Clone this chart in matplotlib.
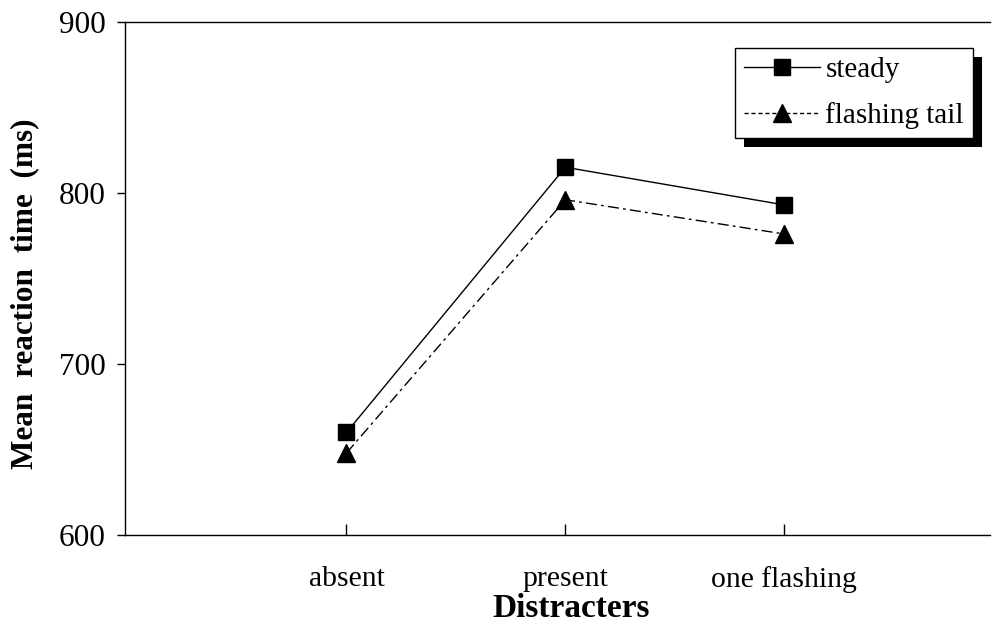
import matplotlib
matplotlib.use("Agg")
import matplotlib.pyplot as plt
from matplotlib.lines import Line2D
from matplotlib.patches import Rectangle

# data
categories = ["absent", "present", "one flashing"]
steady = [660, 815, 793]
flashing_tail = [648, 796, 776]
yticks = [600, 700, 800, 900]

plt.rcParams['font.family'] = ['Liberation Serif', 'DejaVu Serif']

fig = plt.figure(figsize=(9.95, 6.23), dpi=100)
ax = fig.add_axes([0.126, 0.141, 0.869, 0.824])

x = list(range(len(categories)))
ax.plot(x, steady, color='black', lw=1.0, marker='s', markersize=11)
ax.plot(x, flashing_tail, color='black', lw=1.0, linestyle=(0, (8, 3, 2, 3)),
        marker='^', markersize=13)

ax.set_xlim(-1.01, 2.94)
ax.set_ylim(600, 900)
ax.set_yticks(yticks)
ax.set_xticks(x)
ax.set_xticklabels(categories, fontsize=21.3)
ax.tick_params(axis='y', direction='out', length=6, labelsize=22.5, width=1, pad=8)
ax.tick_params(axis='x', direction='in', length=8, width=1, pad=22)

ax.spines['right'].set_visible(False)
for s in ['left', 'top', 'bottom']:
    ax.spines[s].set_linewidth(1.0)

ax.set_ylabel("Mean  reaction  time  (ms)", fontsize=22.5, fontweight='bold')
ax.yaxis.set_label_coords(-0.1, 0.47)
ax.set_xlabel("Distracters", fontsize=24, fontweight='bold')
ax.xaxis.set_label_coords(0.516, -0.113)

handles = [
    Line2D([], [], color='black', lw=1.0, marker='s', markersize=11),
    Line2D([], [], color='black', lw=1.0, linestyle=(0, (3, 2)), marker='^', markersize=13),
]
leg = ax.legend(handles, ["steady", "flashing tail"], loc='upper right',
                bbox_to_anchor=(0.98, 0.949), fontsize=21, frameon=True,
                fancybox=False, edgecolor='black', framealpha=1,
                handlelength=2.6, handletextpad=0.2, borderpad=0.3,
                labelspacing=0.65, borderaxespad=0)
leg.get_frame().set_linewidth(1.0)
leg.set_zorder(5)

# drop shadow behind the legend box
fig.canvas.draw()
bb = leg.get_window_extent().transformed(fig.transFigure.inverted())
off_x, off_y = 9 / 995, 9 / 623
fig.patches.append(Rectangle((bb.x0 + off_x, bb.y0 - off_y), bb.width, bb.height,
                             transform=fig.transFigure, facecolor='black',
                             edgecolor='none', zorder=0))
ax.set_zorder(1)
ax.patch.set_alpha(0)

fig.savefig("out.png", dpi=100)
